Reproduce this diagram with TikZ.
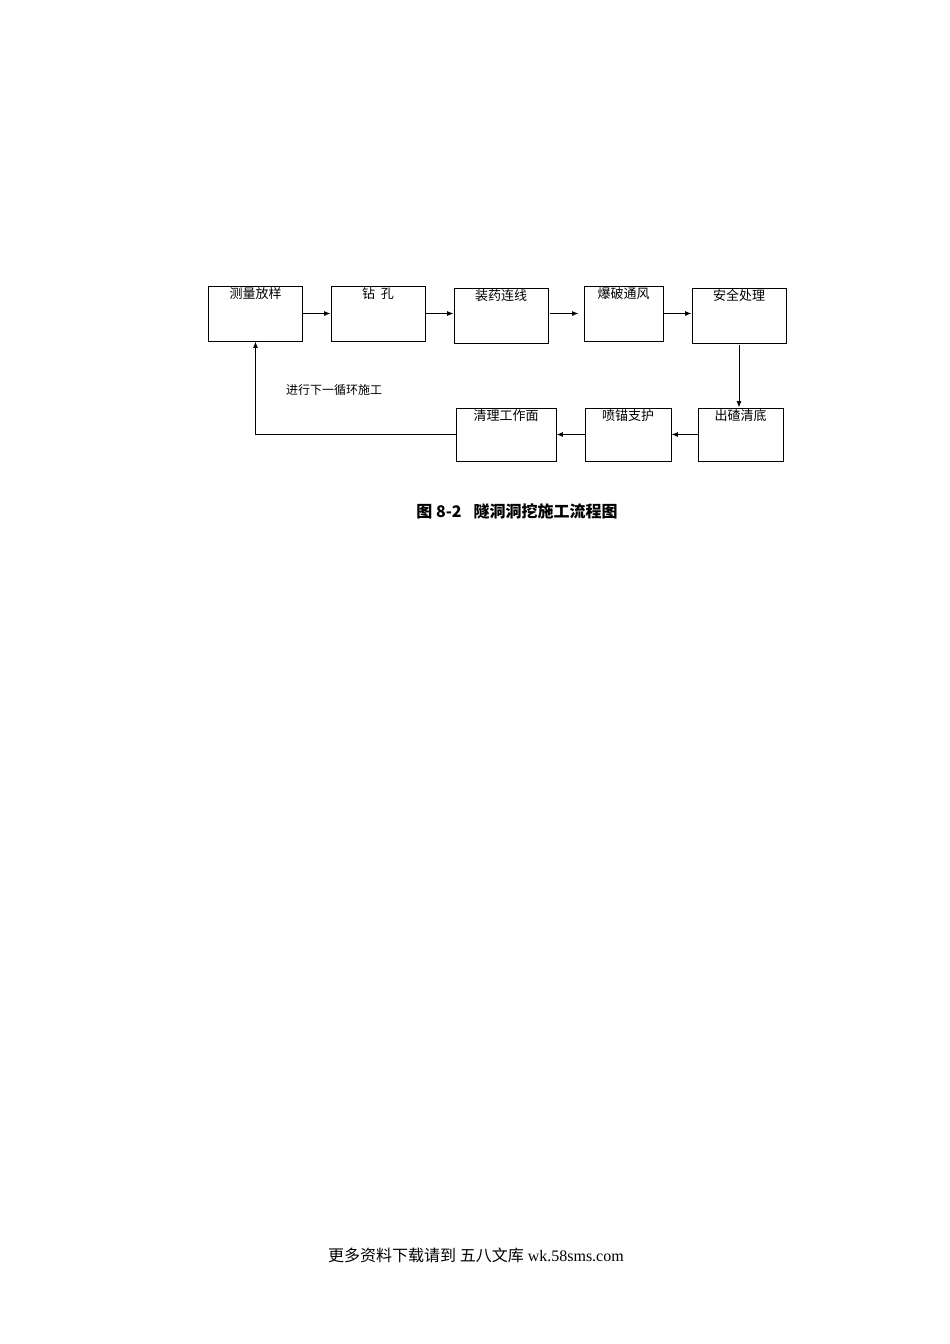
\documentclass[tikz,border=0pt]{standalone}
\usepackage{fontspec}
\setmainfont{Liberation Serif}
\newfontfamily\cjk{Noto Sans CJK SC}
\usetikzlibrary{arrows.meta}
\tikzset{
  stepbox/.style={draw, line width=0.9pt, minimum width=94pt, minimum height=55pt, inner sep=0pt},
  boxtext/.style={anchor=north, inner sep=0pt, yshift=-2pt, font=\cjk\fontsize{13}{15}\selectfont},
  flow/.style={line width=0.9pt, -{Latex[length=6.5pt,width=5pt]}}
}

\begin{document}
\begin{tikzpicture}[x=1pt, y=-1pt]
			%%%%% START %%%%%
			\useasboundingbox (0,0) rectangle (950,1344);
			
			% top row
			\node[stepbox, label={[boxtext]north:测量放样}] (survey) at (255.5,313.5) {};
			\node[stepbox, label={[boxtext]north:钻\ \ 孔}] (drill) at (378,313.5) {};
			\node[stepbox, label={[boxtext]north:装药连线}] (load) at (501,315.5) {};
			\node[stepbox, minimum width=79pt, label={[boxtext]north:爆破通风}] (blast) at (623.5,313.5) {};
			\node[stepbox, label={[boxtext]north:安全处理}] (safe) at (739,315.5) {};
			
			% bottom row
			\node[stepbox, minimum width=85pt, minimum height=53pt, label={[boxtext]north:出碴清底}] (muck) at (740.5,434.5) {};
			\node[stepbox, minimum width=86pt, minimum height=53pt, label={[boxtext]north:喷锚支护}] (spray) at (628,434.5) {};
			\node[stepbox, minimum width=100pt, minimum height=53pt, label={[boxtext]north:清理工作面}] (clean) at (506,434.5) {};
			
			\draw[flow] (survey.east) -- (survey.east -| drill.west);
			\draw[flow] (drill.east) -- (drill.east -| load.west);
			\draw[flow, shorten <=2pt, shorten >=5pt] (blast.west -| load.east) -- (blast.west);
			\draw[flow] (blast.east) -- (blast.east -| safe.west);
			\draw[flow, shorten <=2pt] (safe.south) -- (safe.south |- muck.north);
			\draw[flow] (muck.west) -- (spray.east);
			\draw[flow] (spray.west) -- (clean.east);
			\draw[flow] (clean.west) -| (survey.south);
			
			\node[font=\cjk\fontsize{12}{14}\selectfont] (loop) at (334,390) {进行下一循环施工};
			
			\node[font=\cjk\bfseries\fontsize{16}{18}\selectfont] (caption) at (517,511) {图 8-2\hspace{12pt}隧洞洞挖施工流程图};
			\node[font=\fontsize{16}{18}\selectfont] (footer) at (476,1255) {{\cjk 更多资料下载请到 五八文库} wk.58sms.com};
			%%%%% END %%%%%
\end{tikzpicture}
\end{document}
